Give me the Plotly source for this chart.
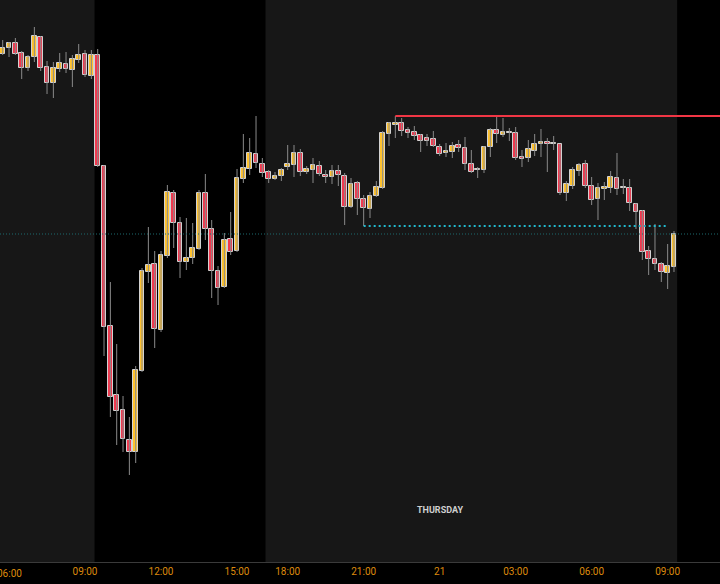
import pandas as pd
import plotly.graph_objects as go

# ---- data -------------------------------------------------------------
# 15-minute candles: day session 2024-03-20 05:45..16:45, then 18:00..2024-03-21 09:15
times = list(pd.date_range("2024-03-20 05:45", "2024-03-20 16:45", freq="15min")) + \
        list(pd.date_range("2024-03-20 18:00", "2024-03-21 09:15", freq="15min"))

open_ = [5286.5, 5288, 5289.25, 5286.75, 5283, 5285.75, 5290.75, 5283.25, 5279.25, 5282.75,
         5284, 5282.5, 5285, 5286.5, 5281, 5286.25, 5258.5, 5218.5, 5201.25, 5197.5,
         5190, 5187, 5207.25, 5232, 5234, 5217.5, 5236, 5251.75, 5244.25, 5234.5,
         5235.5, 5237.75, 5251.75, 5242.75, 5232.25, 5228.25, 5240.25, 5237.25, 5255.25, 5257.75,
         5261.5, 5259, 5257, 5255.25, 5256,
         5258.25, 5258.75, 5261.75, 5257, 5257.5, 5258.5, 5256.25, 5255.75, 5257.25, 5256,
         5248.25, 5254.25, 5250.25, 5247.75, 5251, 5253, 5266.5, 5268.75, 5269.25, 5267.5,
         5267, 5266.25, 5265.5, 5265.25, 5263.25, 5261.75, 5262, 5263.75, 5263, 5259,
         5257.5, 5257.5, 5263.25, 5267.5, 5266.25, 5266.75, 5266.75, 5260.75, 5260.5, 5262.25,
         5264, 5264.5, 5264, 5264, 5251.75, 5253.5, 5257.25, 5259, 5253.5, 5250.25,
         5252.75, 5253, 5255.5, 5253, 5253, 5249, 5247.25, 5237.25, 5235.25, 5234,
         5231.75, 5233.25]
high = [5290, 5289.5, 5290.5, 5287.25, 5286.25, 5293.25, 5291, 5284.75, 5284.5, 5286.75,
        5287, 5286.25, 5289, 5287.5, 5287.5, 5287.75, 5258.75, 5229.5, 5214, 5201,
        5195.75, 5208.5, 5233, 5243.25, 5237.25, 5237.25, 5253.75, 5252.5, 5245.75, 5245.5,
        5244.25, 5252.5, 5256.5, 5245, 5233.5, 5241.75, 5247, 5257.75, 5266.5, 5265.5,
        5271, 5260.5, 5257.5, 5257, 5258,
        5263.75, 5263.75, 5262.75, 5258.5, 5260.5, 5259.75, 5257.5, 5258.75, 5258.75, 5256.75,
        5255.5, 5254.75, 5251.25, 5252, 5254.75, 5267.25, 5269.5, 5271, 5270.5, 5268.25,
        5268.5, 5266.5, 5266.5, 5267.25, 5264, 5264.25, 5264.5, 5265, 5265.75, 5262.5,
        5258.25, 5263.5, 5268, 5270.75, 5270.5, 5268, 5268.25, 5262.5, 5265, 5266.5,
        5267.75, 5265.5, 5266, 5264, 5254.75, 5258.25, 5259.25, 5260, 5255.75, 5254.25,
        5254.5, 5257.25, 5261.75, 5255.25, 5255.25, 5249.25, 5247.5, 5238.5, 5244, 5234.5,
        5239, 5242.25]
low = [5286.25, 5285.75, 5286.25, 5280.25, 5282.25, 5284.5, 5282.25, 5276.5, 5275.5, 5282,
       5281.75, 5278.25, 5284.25, 5280.75, 5280.25, 5258.25, 5211, 5195.75, 5188.75, 5187,
       5181.25, 5184.25, 5207, 5229.25, 5213, 5217, 5235.5, 5238, 5230.5, 5232.5,
       5234, 5237.5, 5240, 5225.5, 5223.75, 5228, 5236.25, 5237, 5254.25, 5256.25,
       5258, 5255.75, 5254.25, 5255, 5254.75,
       5257.5, 5255.75, 5256, 5256.5, 5254.25, 5256, 5254.25, 5254, 5253.5, 5243.75,
       5248, 5246.25, 5243.5, 5245.5, 5250.75, 5252.75, 5263.5, 5265.5, 5266, 5265.5,
       5265, 5262, 5263.5, 5263.25, 5261, 5260.75, 5260.5, 5262, 5257.5, 5256.75,
       5255.5, 5256.75, 5260.75, 5264.25, 5265.75, 5264.75, 5260, 5258.25, 5259.5, 5261,
       5260.75, 5257, 5262.5, 5251.25, 5249.75, 5252.75, 5256, 5253, 5248.75, 5245,
       5250, 5251.75, 5251.25, 5251.5, 5247.25, 5242.75, 5235, 5231.25, 5232.5, 5229.5,
       5227.75, 5232]
close = [5288, 5289.25, 5286.5, 5283, 5285.75, 5291, 5283, 5279.25, 5283, 5284.25,
         5282.75, 5285.25, 5286.25, 5281.25, 5286.25, 5258.5, 5218.25, 5200.75, 5197.25, 5190.25,
         5187, 5207.5, 5232.25, 5233.75, 5217.75, 5236.25, 5252, 5244.25, 5234.5, 5235.5,
         5238, 5251.75, 5242.75, 5232.25, 5228, 5240, 5237, 5255.5, 5258, 5261.75,
         5259.25, 5256.75, 5255.25, 5256, 5257.5,
         5259, 5261.75, 5257, 5257.75, 5258.75, 5256.5, 5255.75, 5257.25, 5256.25, 5248.25,
         5254, 5250.25, 5248, 5251, 5253.25, 5266.75, 5269.25, 5269.25, 5267.25, 5266.75,
         5266, 5264.75, 5264.75, 5263.5, 5261.5, 5262.25, 5263.5, 5263, 5259, 5257,
         5257.75, 5263.25, 5267.5, 5266.5, 5267, 5267, 5260.5, 5260.25, 5262.75, 5264,
         5264.5, 5264, 5264.25, 5251.75, 5254, 5257.5, 5258.75, 5253.5, 5250, 5253,
         5253.25, 5255.75, 5252.75, 5253.25, 5249.25, 5247, 5237, 5235.25, 5234, 5232,
         5233.5, 5241.5]

resistance_level = 5271.0
resistance_start = "2024-03-20 22:15"
support_level = 5243.5
support_start, support_end = "2024-03-20 21:00", "2024-03-21 09:00"
last_price = 5241.5

rth_sessions = [("2024-03-20 09:30", "2024-03-20 16:15"), ("2024-03-21 09:30", "2024-03-21 16:15")]

tick_vals = ["2024-03-20 06:00", "2024-03-20 09:00", "2024-03-20 12:00", "2024-03-20 15:00",
             "2024-03-20 18:00", "2024-03-20 21:00", "2024-03-21 00:00", "2024-03-21 03:00",
             "2024-03-21 06:00", "2024-03-21 09:00"]
tick_text = ["06:00", "09:00", "12:00", "15:00", "18:00", "21:00", "21", "03:00", "06:00", "09:00"]

x_range = ["2024-03-20 05:38:36", "2024-03-21 11:04"]
y_range = [5159.5, 5300]

# ---- styling ----------------------------------------------------------
UP = "#ffc22e"
DOWN = "#f0394f"
BORDER = "#d2d2d2"
WICK = "#8a8a8a"
TICK_COLOR = "#dd8a0c"
half = pd.Timedelta("7min30s")

fig = go.Figure()

# session shading (black over dark grey)
for s, e in rth_sessions:
    fig.add_shape(type="rect", xref="x", yref="paper",
                  x0=pd.Timestamp(s) - half, x1=pd.Timestamp(e) - half, y0=0, y1=1,
                  fillcolor="#000000", line_width=0, layer="below")

# wicks
wx, wy = [], []
for t, h_, l_ in zip(times, high, low):
    wx += [t, t, None]
    wy += [l_, h_, None]
fig.add_trace(go.Scatter(x=wx, y=wy, mode="lines", line=dict(color=WICK, width=1),
                         hoverinfo="skip", showlegend=False))

# bodies
fig.add_trace(go.Bar(
    x=times,
    base=[min(o, c) for o, c in zip(open_, close)],
    y=[abs(c - o) for o, c in zip(open_, close)],
    width=660000,
    marker=dict(color=[UP if c >= o else DOWN for o, c in zip(open_, close)],
                line=dict(color=BORDER, width=1)),
    showlegend=False, hoverinfo="skip"))

# last price line (full width fine dots)
fig.add_shape(type="line", xref="paper", yref="y", x0=0, x1=1, y0=last_price, y1=last_price,
              line=dict(color="#1d6a6e", width=1, dash="1px,2px"))

# support level dotted
fig.add_trace(go.Scatter(x=[support_start, support_end], y=[support_level, support_level],
                         mode="lines", line=dict(color="#22b8cc", width=2, dash="2px,3px"),
                         hoverinfo="skip", showlegend=False))

# resistance level
fig.add_trace(go.Scatter(x=[resistance_start, x_range[1]], y=[resistance_level, resistance_level],
                         mode="lines", line=dict(color="#f23645", width=2),
                         hoverinfo="skip", showlegend=False))

fig.add_annotation(x="2024-03-21 00:00", xref="x", y=1 - 510 / 562, yref="paper",
                   yanchor="middle", text="<b>THURSDAY</b>", showarrow=False,
                   font=dict(family="Roboto", size=9, color="#cfcfcf"))

# first tick label, partly cut at the left edge (plotly hides it otherwise)
fig.add_annotation(x=tick_vals[0], xref="x", y=-11 / 562, yref="paper", yanchor="middle",
                   text=tick_text[0], showarrow=False,
                   font=dict(family="Roboto", size=10, color=TICK_COLOR))

fig.update_layout(
    width=720, height=584,
    margin=dict(l=0, r=0, t=0, b=22),
    paper_bgcolor="#000000", plot_bgcolor="#171717",
    bargap=0,
    xaxis=dict(type="date", range=x_range,
               rangebreaks=[dict(pattern="hour", bounds=[17, 18])],
               tickvals=tick_vals[1:], ticktext=tick_text[1:],
               tickfont=dict(family="Roboto", size=10, color=TICK_COLOR),
               showgrid=False, zeroline=False, showline=True, linecolor="#3a3a3a", linewidth=1,
               ticks="", fixedrange=True),
    yaxis=dict(range=y_range, visible=False, showgrid=False, zeroline=False, fixedrange=True),
)

fig.write_html("out.html", config={"displayModeBar": False},
               post_script="document.body.style.margin='0';document.body.style.background='#000';")
